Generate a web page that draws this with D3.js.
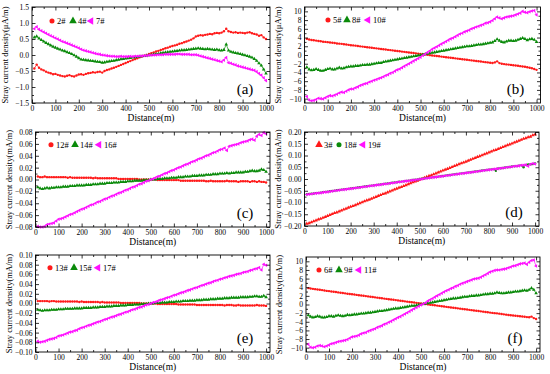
<!DOCTYPE html>
<html><head><meta charset="utf-8">
<script src="https://cdn.jsdelivr.net/npm/d3@7"></script>
<style>
html,body{margin:0;padding:0;background:#fff;}
svg{display:block;}
</style></head>
<body>
<svg id="chart" width="550" height="374"></svg>
<script>
// ---------------- DATA ----------------
const distance = [10,20,30,40,50,60,70,80,90,100,110,120,130,140,150,160,170,180,190,200,
210,220,230,240,250,260,270,280,290,300,310,320,330,340,350,360,370,380,390,400,
410,420,430,440,450,460,470,480,490,500,510,520,530,540,550,560,570,580,590,600,
610,620,630,640,650,660,670,680,690,700,710,720,730,740,750,760,770,780,790,800,
810,820,830,840,850,860,870,880,890,900,910,920,930,940,950,960,970,980,990,1000];

const xTicks = [0,100,200,300,400,500,600,700,800,900,1000];

// (a) μA/m
const s2 = [-0.42,-0.30,-0.40,-0.45,-0.48,-0.52,-0.55,-0.57,-0.60,-0.59,
-0.62,-0.64,-0.66,-0.67,-0.65,-0.63,-0.66,-0.67,-0.64,-0.61,
-0.60,-0.62,-0.59,-0.57,-0.56,-0.54,-0.55,-0.53,-0.52,-0.55,
-0.50,-0.47,-0.45,-0.42,-0.40,-0.37,-0.34,-0.31,-0.28,-0.25,
-0.22,-0.19,-0.16,-0.13,-0.10,-0.07,-0.05,-0.02,0.00,0.03,
0.06,0.08,0.11,0.13,0.16,0.18,0.21,0.23,0.26,0.28,
0.30,0.32,0.35,0.37,0.40,0.42,0.45,0.48,0.52,0.58,
0.60,0.62,0.61,0.63,0.64,0.66,0.65,0.68,0.69,0.68,
0.70,0.74,0.82,0.74,0.72,0.70,0.71,0.69,0.70,0.69,
0.68,0.70,0.71,0.68,0.66,0.64,0.60,0.62,0.55,0.50];
const s4 = [0.55,0.58,0.52,0.47,0.42,0.38,0.34,0.30,0.26,0.23,
0.20,0.17,0.14,0.12,0.09,0.06,0.03,-0.01,-0.05,-0.10,
-0.14,-0.15,-0.16,-0.17,-0.18,-0.19,-0.20,-0.21,-0.22,-0.24,
-0.23,-0.21,-0.20,-0.19,-0.18,-0.16,-0.15,-0.13,-0.12,-0.11,
-0.10,-0.09,-0.08,-0.07,-0.06,-0.05,-0.04,-0.03,-0.02,-0.01,
0.00,0.02,0.03,0.04,0.06,0.07,0.08,0.09,0.10,0.11,
0.12,0.13,0.14,0.15,0.15,0.16,0.17,0.18,0.19,0.20,
0.21,0.20,0.19,0.18,0.19,0.18,0.17,0.16,0.17,0.15,
0.14,0.16,0.33,0.14,0.10,0.08,0.06,0.05,0.03,0.01,
-0.01,-0.03,-0.05,-0.08,-0.12,-0.18,-0.26,-0.33,-0.45,-0.58];
const s7 = [0.82,0.88,0.80,0.76,0.72,0.68,0.64,0.60,0.57,0.53,
0.50,0.46,0.42,0.40,0.37,0.34,0.31,0.28,0.25,0.22,
0.18,0.15,0.13,0.11,0.09,0.07,0.05,0.03,0.02,0.00,
-0.01,-0.02,-0.03,-0.04,-0.04,-0.05,-0.05,-0.04,-0.05,-0.05,
-0.05,-0.04,-0.05,-0.04,-0.04,-0.03,-0.03,-0.02,-0.02,-0.01,
-0.01,0.00,0.00,0.01,0.01,0.01,0.02,0.02,0.02,0.02,
0.02,0.03,0.03,0.02,0.02,0.02,0.02,0.01,0.01,0.01,
-0.01,-0.03,-0.05,-0.07,-0.09,-0.11,-0.13,-0.15,-0.17,-0.19,
-0.21,-0.16,-0.08,-0.24,-0.26,-0.29,-0.31,-0.34,-0.36,-0.38,
-0.40,-0.42,-0.44,-0.46,-0.48,-0.52,-0.58,-0.63,-0.71,-0.80];

// (b) μA/m
const s5 = [3.70,3.55,3.45,3.38,3.30,3.22,3.15,3.05,3.00,2.95,
2.88,2.82,2.74,2.65,2.60,2.55,2.48,2.40,2.33,2.25,
2.20,2.14,2.06,1.98,1.92,1.85,1.78,1.72,1.65,1.58,
1.52,1.45,1.38,1.32,1.25,1.18,1.12,1.05,0.98,0.92,
0.85,0.78,0.72,0.65,0.58,0.52,0.45,0.38,0.32,0.25,
0.18,0.10,0.04,-0.03,-0.10,-0.17,-0.24,-0.30,-0.37,-0.44,
-0.50,-0.57,-0.64,-0.70,-0.77,-0.84,-0.90,-0.97,-1.04,-1.10,
-1.17,-1.24,-1.30,-1.37,-1.44,-1.50,-1.57,-1.64,-1.70,-1.77,
-1.82,-1.70,-1.45,-1.85,-2.00,-2.08,-2.15,-2.20,-2.27,-2.35,
-2.42,-2.48,-2.55,-2.62,-2.70,-2.80,-2.92,-3.05,-3.20,-3.40];
const s8 = [-2.8,-3.3,-3.5,-3.4,-3.2,-3.4,-3.6,-3.6,-3.4,-3.2,
-3.1,-3.3,-3.3,-3.1,-2.9,-3.1,-3.0,-2.8,-2.7,-2.6,
-2.6,-2.5,-2.5,-2.4,-2.3,-2.3,-2.2,-2.2,-2.1,-2.0,
-1.9,-1.8,-1.8,-1.6,-1.5,-1.4,-1.3,-1.2,-1.1,-1.0,
-0.9,-0.8,-0.7,-0.6,-0.5,-0.4,-0.3,-0.2,-0.1,0.0,
0.1,0.2,0.3,0.4,0.5,0.6,0.7,0.8,0.9,1.0,
1.1,1.2,1.3,1.4,1.5,1.6,1.7,1.8,1.9,2.0,
2.0,2.1,2.2,2.3,2.4,2.4,2.5,2.6,2.7,2.8,
2.9,3.2,3.6,3.3,3.0,2.9,3.1,3.3,3.3,3.2,
3.3,3.5,3.7,3.9,3.7,3.4,3.6,3.7,3.5,3.0];
const s10 = [-9.5,-10.3,-10.5,-10.4,-10.2,-9.9,-10.0,-10.1,-9.8,-9.5,
-9.3,-9.4,-9.2,-9.0,-8.7,-8.5,-8.6,-8.3,-8.0,-7.8,
-7.8,-7.5,-7.3,-7.0,-6.8,-6.6,-6.5,-6.2,-6.0,-5.8,
-5.6,-5.4,-5.2,-5.0,-4.7,-4.5,-4.2,-4.0,-3.7,-3.4,
-3.2,-2.9,-2.6,-2.3,-2.0,-1.7,-1.4,-1.1,-0.8,-0.5,
-0.1,0.2,0.6,0.9,1.3,1.6,1.9,2.2,2.5,2.8,
3.1,3.4,3.7,3.9,4.2,4.5,4.8,5.0,5.3,5.5,
5.7,6.0,6.2,6.4,6.6,6.8,7.0,7.3,7.4,7.6,
7.9,8.3,8.7,8.5,8.3,8.5,8.7,8.8,8.9,9.0,
9.2,9.4,9.6,10.0,9.8,9.7,9.9,10.1,10.2,9.2];

// (c) mA/m
const s12 = [0.005,0.004,0.004,0.005,0.004,0.004,0.004,0.004,0.004,0.004,
0.004,0.004,0.004,0.003,0.004,0.003,0.003,0.003,0.003,0.003,
0.003,0.003,0.003,0.003,0.002,0.003,0.002,0.002,0.002,0.002,
0.002,0.002,0.002,0.002,0.002,0.001,0.001,0.001,0.001,0.001,
0.001,0.001,0.001,0.001,0.000,0.000,0.000,0.000,0.000,0.000,
0.000,0.000,-0.001,-0.001,-0.001,-0.001,-0.001,-0.001,-0.001,-0.001,
-0.001,-0.001,-0.002,-0.002,-0.002,-0.002,-0.002,-0.002,-0.002,-0.002,
-0.002,-0.002,-0.002,-0.003,-0.003,-0.002,-0.003,-0.003,-0.003,-0.003,
-0.003,-0.003,-0.002,-0.003,-0.003,-0.003,-0.003,-0.004,-0.003,-0.003,
-0.003,-0.003,-0.004,-0.003,-0.003,-0.004,-0.003,-0.004,-0.004,-0.005];
const s14 = [-0.013,-0.015,-0.016,-0.015,-0.014,-0.015,-0.014,-0.014,-0.013,-0.013,
-0.013,-0.012,-0.012,-0.012,-0.011,-0.011,-0.011,-0.010,-0.010,-0.010,
-0.010,-0.009,-0.009,-0.009,-0.008,-0.008,-0.008,-0.007,-0.007,-0.007,
-0.006,-0.006,-0.006,-0.005,-0.005,-0.005,-0.004,-0.004,-0.004,-0.003,
-0.003,-0.003,-0.002,-0.002,-0.002,-0.002,-0.001,-0.001,-0.001,0.000,
0.000,0.000,0.001,0.001,0.001,0.002,0.002,0.002,0.003,0.003,
0.003,0.004,0.004,0.004,0.005,0.005,0.005,0.006,0.006,0.006,
0.007,0.007,0.007,0.008,0.008,0.008,0.009,0.009,0.009,0.010,
0.010,0.010,0.011,0.010,0.011,0.011,0.012,0.012,0.012,0.012,
0.013,0.013,0.014,0.015,0.014,0.014,0.015,0.017,0.016,0.013];
const s16 = [-0.079,-0.080,-0.080,-0.079,-0.076,-0.075,-0.074,-0.073,-0.070,-0.067,
-0.066,-0.065,-0.063,-0.061,-0.059,-0.058,-0.056,-0.054,-0.052,-0.050,
-0.049,-0.047,-0.045,-0.043,-0.042,-0.040,-0.038,-0.037,-0.035,-0.033,
-0.032,-0.030,-0.028,-0.027,-0.025,-0.023,-0.022,-0.020,-0.018,-0.017,
-0.015,-0.013,-0.012,-0.010,-0.008,-0.007,-0.005,-0.003,-0.002,0.000,
0.001,0.003,0.005,0.006,0.008,0.010,0.011,0.013,0.015,0.016,
0.018,0.020,0.021,0.023,0.025,0.026,0.028,0.030,0.031,0.033,
0.035,0.036,0.038,0.040,0.041,0.043,0.045,0.046,0.048,0.050,
0.051,0.053,0.049,0.056,0.057,0.058,0.059,0.060,0.062,0.063,
0.064,0.065,0.067,0.068,0.066,0.073,0.076,0.074,0.079,0.077];

// (d) mA/m
const s3 = [-0.190,-0.188,-0.184,-0.180,-0.176,-0.172,-0.169,-0.165,-0.161,-0.157,
-0.153,-0.149,-0.145,-0.142,-0.138,-0.134,-0.130,-0.126,-0.122,-0.118,
-0.115,-0.111,-0.107,-0.103,-0.099,-0.095,-0.091,-0.088,-0.084,-0.080,
-0.076,-0.072,-0.068,-0.064,-0.061,-0.057,-0.053,-0.049,-0.045,-0.041,
-0.037,-0.034,-0.030,-0.026,-0.022,-0.018,-0.014,-0.010,-0.007,-0.003,
0.001,0.005,0.009,0.013,0.016,0.020,0.024,0.028,0.032,0.036,
0.040,0.043,0.047,0.051,0.055,0.059,0.063,0.067,0.070,0.074,
0.078,0.082,0.086,0.090,0.094,0.097,0.101,0.105,0.109,0.113,
0.117,0.121,0.124,0.128,0.132,0.136,0.140,0.144,0.147,0.151,
0.155,0.159,0.163,0.167,0.171,0.174,0.178,0.180,0.186,0.190];
const s18 = [-0.065,-0.064,-0.063,-0.062,-0.060,-0.059,-0.058,-0.056,-0.055,-0.054,
-0.052,-0.051,-0.050,-0.048,-0.047,-0.046,-0.044,-0.043,-0.042,-0.040,
-0.039,-0.038,-0.036,-0.035,-0.034,-0.032,-0.031,-0.030,-0.028,-0.027,
-0.026,-0.024,-0.023,-0.022,-0.020,-0.019,-0.018,-0.016,-0.015,-0.014,
-0.012,-0.011,-0.010,-0.008,-0.007,-0.006,-0.004,-0.003,-0.002,0.000,
0.001,0.002,0.004,0.005,0.006,0.008,0.009,0.010,0.012,0.013,
0.014,0.016,0.017,0.018,0.020,0.021,0.022,0.024,0.025,0.026,
0.028,0.029,0.030,0.032,0.033,0.034,0.036,0.037,0.038,0.040,
0.041,0.042,0.035,0.045,0.046,0.047,0.049,0.050,0.051,0.053,
0.054,0.055,0.057,0.058,0.050,0.060,0.062,0.063,0.064,0.066];
const s19 = [-0.066,-0.065,-0.064,-0.062,-0.061,-0.060,-0.059,-0.057,-0.056,-0.055,
-0.053,-0.052,-0.050,-0.049,-0.048,-0.046,-0.045,-0.044,-0.042,-0.041,
-0.040,-0.038,-0.037,-0.036,-0.034,-0.033,-0.032,-0.030,-0.029,-0.028,
-0.026,-0.025,-0.024,-0.022,-0.021,-0.020,-0.018,-0.017,-0.016,-0.014,
-0.013,-0.012,-0.010,-0.009,-0.008,-0.006,-0.005,-0.004,-0.002,-0.001,
0.000,0.002,0.003,0.004,0.006,0.007,0.008,0.010,0.011,0.012,
0.014,0.015,0.016,0.018,0.019,0.020,0.022,0.023,0.024,0.026,
0.027,0.028,0.030,0.031,0.032,0.034,0.035,0.036,0.038,0.039,
0.040,0.042,0.043,0.044,0.046,0.047,0.048,0.050,0.051,0.052,
0.054,0.055,0.056,0.058,0.059,0.060,0.055,0.063,0.066,0.064];

// (e) mA/m
const s13 = [0.005,0.005,0.005,0.005,0.005,0.004,0.005,0.005,0.004,0.004,
0.004,0.004,0.004,0.004,0.004,0.004,0.004,0.004,0.003,0.004,
0.003,0.003,0.003,0.003,0.003,0.003,0.003,0.002,0.003,0.002,
0.002,0.002,0.002,0.002,0.002,0.002,0.001,0.001,0.001,0.001,
0.001,0.001,0.001,0.001,0.001,0.000,0.000,0.000,0.000,0.000,
0.000,0.000,-0.001,-0.001,-0.001,-0.001,-0.001,-0.001,-0.001,-0.001,
-0.001,-0.002,-0.002,-0.002,-0.002,-0.002,-0.002,-0.002,-0.002,-0.003,
-0.003,-0.003,-0.003,-0.003,-0.003,-0.003,-0.003,-0.003,-0.003,-0.003,
-0.003,-0.004,-0.003,-0.003,-0.003,-0.004,-0.004,-0.003,-0.004,-0.004,
-0.004,-0.004,-0.004,-0.004,-0.004,-0.003,-0.004,-0.004,-0.004,-0.005];
const s15 = [-0.013,-0.014,-0.015,-0.014,-0.014,-0.014,-0.013,-0.013,-0.013,-0.012,
-0.012,-0.012,-0.011,-0.011,-0.011,-0.011,-0.010,-0.010,-0.010,-0.010,
-0.009,-0.009,-0.009,-0.009,-0.008,-0.008,-0.008,-0.007,-0.007,-0.007,
-0.006,-0.006,-0.006,-0.005,-0.005,-0.005,-0.004,-0.004,-0.004,-0.003,
-0.003,-0.003,-0.002,-0.002,-0.002,-0.001,-0.001,-0.001,0.000,0.000,
0.000,0.001,0.001,0.001,0.002,0.002,0.002,0.003,0.003,0.003,
0.004,0.004,0.004,0.005,0.005,0.005,0.006,0.006,0.006,0.007,
0.007,0.007,0.008,0.008,0.008,0.009,0.009,0.009,0.010,0.010,
0.010,0.011,0.011,0.011,0.012,0.012,0.012,0.012,0.013,0.013,
0.013,0.013,0.014,0.014,0.015,0.015,0.014,0.014,0.016,0.013];
const s17 = [-0.078,-0.080,-0.079,-0.078,-0.076,-0.074,-0.073,-0.072,-0.070,-0.067,
-0.066,-0.065,-0.063,-0.061,-0.059,-0.058,-0.056,-0.055,-0.052,-0.050,
-0.049,-0.047,-0.045,-0.044,-0.042,-0.040,-0.038,-0.037,-0.035,-0.033,
-0.032,-0.030,-0.028,-0.027,-0.025,-0.023,-0.022,-0.020,-0.018,-0.017,
-0.015,-0.013,-0.012,-0.010,-0.008,-0.007,-0.005,-0.003,-0.002,0.000,
0.002,0.003,0.005,0.007,0.008,0.010,0.012,0.013,0.015,0.017,
0.018,0.020,0.022,0.023,0.025,0.027,0.028,0.030,0.032,0.033,
0.035,0.037,0.038,0.040,0.042,0.043,0.045,0.047,0.048,0.050,
0.051,0.053,0.054,0.056,0.057,0.058,0.060,0.061,0.062,0.064,
0.065,0.066,0.068,0.069,0.071,0.072,0.074,0.069,0.081,0.079];

// (f) mA/m
const s6 = [3.80,3.70,3.62,3.55,3.48,3.40,3.33,3.25,3.15,3.10,
3.02,2.95,2.88,2.80,2.73,2.66,2.58,2.50,2.44,2.37,
2.30,2.22,2.15,2.08,2.01,1.94,1.87,1.80,1.73,1.66,
1.58,1.51,1.44,1.37,1.30,1.23,1.16,1.09,1.02,0.95,
0.88,0.80,0.73,0.66,0.59,0.52,0.45,0.38,0.31,0.24,
0.17,0.10,0.02,-0.05,-0.12,-0.19,-0.26,-0.33,-0.40,-0.47,
-0.54,-0.61,-0.68,-0.75,-0.82,-0.89,-0.96,-1.03,-1.10,-1.17,
-1.24,-1.31,-1.38,-1.45,-1.52,-1.59,-1.66,-1.73,-1.80,-1.87,
-1.94,-2.00,-2.05,-2.12,-2.20,-2.28,-2.35,-2.42,-2.48,-2.55,
-2.60,-2.65,-2.72,-2.78,-2.85,-2.92,-2.95,-2.80,-3.15,-3.35];
const s9 = [-2.5,-2.8,-3.0,-2.9,-2.7,-2.8,-3.0,-3.0,-2.9,-2.7,
-2.7,-2.8,-2.6,-2.5,-2.6,-2.7,-2.6,-2.4,-2.5,-2.4,
-2.3,-2.3,-2.2,-2.1,-2.1,-2.0,-1.9,-1.9,-1.8,-1.7,
-1.6,-1.5,-1.5,-1.4,-1.3,-1.2,-1.1,-1.0,-0.9,-0.9,
-0.8,-0.7,-0.6,-0.5,-0.4,-0.3,-0.3,-0.2,-0.1,0.0,
0.1,0.2,0.3,0.4,0.5,0.6,0.7,0.8,0.9,1.0,
1.1,1.2,1.3,1.4,1.4,1.5,1.6,1.7,1.8,1.8,
1.9,2.0,2.0,2.1,2.1,2.2,2.3,2.4,2.4,2.5,
2.5,2.6,2.8,2.7,2.6,2.6,2.7,2.8,2.8,2.9,
3.0,3.0,3.1,3.2,3.3,3.2,3.4,3.8,3.4,2.6];
const s11 = [-9.2,-9.9,-10.0,-9.9,-9.6,-9.5,-9.6,-9.8,-9.6,-9.4,
-9.1,-9.0,-8.8,-8.6,-8.5,-8.4,-8.3,-8.1,-7.8,-7.5,
-7.4,-7.3,-7.1,-6.8,-6.6,-6.5,-6.2,-6.0,-5.8,-5.6,
-5.3,-5.1,-4.9,-4.6,-4.4,-4.1,-3.9,-3.6,-3.3,-3.0,
-2.8,-2.5,-2.2,-1.9,-1.6,-1.3,-1.0,-0.7,-0.4,-0.1,
0.1,0.4,0.8,1.1,1.4,1.7,2.0,2.3,2.6,2.9,
3.2,3.4,3.7,3.9,4.2,4.4,4.7,4.9,5.1,5.3,
5.5,5.7,5.9,6.0,6.1,6.3,6.6,6.9,7.2,7.5,
7.7,7.9,8.0,8.0,8.1,8.2,8.3,8.5,8.7,8.9,
9.0,9.2,9.4,9.5,9.6,9.3,9.8,10.2,10.3,8.9];

const yTicksA = [-1.5,-1.0,-0.5,0.0,0.5,1.0,1.5];
const yTicksB = [-10,-8,-6,-4,-2,0,2,4,6,8,10];
const yTicksC = [-0.08,-0.06,-0.04,-0.02,0.00,0.02,0.04,0.06,0.08];
const yTicksD = [-0.20,-0.15,-0.10,-0.05,0.00,0.05,0.10,0.15,0.20];
const yTicksE = [-0.10,-0.08,-0.06,-0.04,-0.02,0.00,0.02,0.04,0.06,0.08,0.10];
const yTicksF = [-10,-8,-6,-4,-2,0,2,4,6,8,10];

// ---------------- STYLE / LAYOUT ----------------
const RED = "#ff1a1a", GREEN = "#0a8a0a", MAG = "#ff10ff";
const FONT = "'Liberation Serif','Times New Roman',serif";

const panels = [
  {box:[32,270,7,103], yDom:[-1.5,1.5], yTicks:yTicksA, fmt:".1f", yTitle:"Stray current density(μA/m)", label:"(a)", leg:[20,14,[0,21,39]],
   series:[{n:"2#",v:s2,c:RED,s:"circle"},{n:"4#",v:s4,c:GREEN,s:"up"},{n:"7#",v:s7,c:MAG,s:"left"}]},
  {box:[304.5,540.5,7,103], yDom:[-11,11], yTicks:yTicksB, fmt:"d", yTitle:"Stray current density(μA/m)", label:"(b)", leg:[23.5,13,[0,19,40]],
   series:[{n:"5#",v:s5,c:RED,s:"circle"},{n:"8#",v:s8,c:GREEN,s:"up"},{n:"10#",v:s10,c:MAG,s:"left"}]},
  {box:[35.5,270,132,227], yDom:[-0.08,0.08], yTicks:yTicksC, fmt:".2f", yTitle:"Stray current density(mA/m)", label:"(c)", leg:[15.5,12.7,[0,24,48]],
   series:[{n:"12#",v:s12,c:RED,s:"circle"},{n:"14#",v:s14,c:GREEN,s:"up"},{n:"16#",v:s16,c:MAG,s:"left"}]},
  {box:[304.5,539,132,226], yDom:[-0.20,0.20], yTicks:yTicksD, fmt:".2f", yTitle:"Stray current density(mA/m)", label:"(d)", leg:[14.5,12.7,[0,20,44]],
   series:[{n:"3#",v:s3,c:RED,s:"up"},{n:"18#",v:s18,c:GREEN,s:"circle"},{n:"19#",v:s19,c:MAG,s:"left"}]},
  {box:[35.5,270,255,352], yDom:[-0.10,0.10], yTicks:yTicksE, fmt:".2f", yTitle:"Stray current density(mA/m)", label:"(e)", leg:[14.5,12.7,[0,24,48]],
   series:[{n:"13#",v:s13,c:RED,s:"circle"},{n:"15#",v:s15,c:GREEN,s:"up"},{n:"17#",v:s17,c:MAG,s:"left"}]},
  {box:[306,540,257,352], yDom:[-11,11], yTicks:yTicksF, fmt:"d", yTitle:"Stray current density(mA/m)", label:"(f)", leg:[13,13,[0,20,40]],
   series:[{n:"6#",v:s6,c:RED,s:"circle"},{n:"9#",v:s9,c:GREEN,s:"up"},{n:"11#",v:s11,c:MAG,s:"left"}]}
];

const svg = d3.select("#chart");

function symPath(shape, size){
  if (shape === "circle") return d3.symbol(d3.symbolCircle, size)();
  return d3.symbol(d3.symbolTriangle, size*1.25)();
}
function symRot(shape){ return shape === "left" ? -90 : 0; }

panels.forEach(p => {
  const [L,R,T,B] = p.box;
  const x = d3.scaleLinear().domain([0,1017]).range([L,R]);
  const y = d3.scaleLinear().domain(p.yDom).range([B,T]);
  const g = svg.append("g");

  // data
  p.series.forEach(s => {
    const pts = distance.map((d,i)=>[d, s.v[i]]);
    g.append("path").datum(pts)
      .attr("fill","none").attr("stroke",s.c).attr("stroke-width",0.7)
      .attr("d", d3.line().x(d=>x(d[0])).y(d=>y(d[1])));
    g.selectAll(null).data(pts).enter().append("path")
      .attr("d", symPath(s.s, 4.5))
      .attr("fill", s.c)
      .attr("transform", d=>`translate(${x(d[0])},${y(d[1])}) rotate(${symRot(s.s)})`);
  });

  // frame
  g.append("rect").attr("x",L).attr("y",T).attr("width",R-L).attr("height",B-T)
    .attr("fill","none").attr("stroke","#000").attr("stroke-width",0.9);

  const step = p.yTicks[1]-p.yTicks[0];
  const yMinor = p.yTicks.slice(0,-1).map(v=>v+step/2);
  const xMinor = xTicks.slice(0,-1).map(v=>v+50);

  const style = sel => { sel.select(".domain").remove();
    sel.selectAll("line").attr("stroke","#000").attr("stroke-width",0.8);
    sel.selectAll("text").attr("font-family",FONT).attr("font-size",7.6).attr("fill","#000"); };

  g.append("g").attr("transform",`translate(0,${B})`)
    .call(d3.axisBottom(x).tickValues(xTicks).tickSize(-3.5).tickPadding(2.2).tickFormat(d3.format("d"))).call(style);
  g.append("g").attr("transform",`translate(0,${B})`)
    .call(d3.axisBottom(x).tickValues(xMinor).tickSize(-2).tickFormat("")).call(style);
  g.append("g").attr("transform",`translate(0,${T})`)
    .call(d3.axisTop(x).tickValues(xTicks).tickSize(-3.5).tickFormat("")).call(style);
  g.append("g").attr("transform",`translate(0,${T})`)
    .call(d3.axisTop(x).tickValues(xMinor).tickSize(-2).tickFormat("")).call(style);

  g.append("g").attr("transform",`translate(${L},0)`)
    .call(d3.axisLeft(y).tickValues(p.yTicks).tickSize(-3.5).tickPadding(3).tickFormat(d3.format(p.fmt))).call(style);
  g.append("g").attr("transform",`translate(${L},0)`)
    .call(d3.axisLeft(y).tickValues(yMinor).tickSize(-2).tickFormat("")).call(style);
  g.append("g").attr("transform",`translate(${R},0)`)
    .call(d3.axisRight(y).tickValues(p.yTicks).tickSize(-3.5).tickFormat("")).call(style);
  g.append("g").attr("transform",`translate(${R},0)`)
    .call(d3.axisRight(y).tickValues(yMinor).tickSize(-2).tickFormat("")).call(style);

  // titles
  g.append("text").attr("x",(L+R)/2).attr("y",B+18).attr("text-anchor","middle")
    .attr("font-family",FONT).attr("font-size",9.5).text("Distance(m)");
  g.append("text").attr("transform",`translate(${L-27},${(T+B)/2}) rotate(-90)`)
    .attr("text-anchor","middle").attr("dy","0.35em")
    .attr("font-family",FONT).attr("font-size",8.6).text(p.yTitle);

  // panel label
  g.append("text").attr("x",R-25).attr("y",B-9).attr("text-anchor","middle")
    .attr("font-family",FONT).attr("font-size",15).text(p.label);

  // legend
  const [lx,ly,offs] = p.leg;
  p.series.forEach((s,i)=>{
    const cx = L+lx+offs[i], cy = T+ly;
    g.append("path").attr("d", symPath(s.s, 20)).attr("fill", s.c)
      .attr("transform",`translate(${cx},${cy}) rotate(${symRot(s.s)})`);
    g.append("text").attr("x",cx+5).attr("y",cy+3).attr("font-family",FONT)
      .attr("font-size",8.5).text(s.n);
  });
});
</script>
</body></html>
